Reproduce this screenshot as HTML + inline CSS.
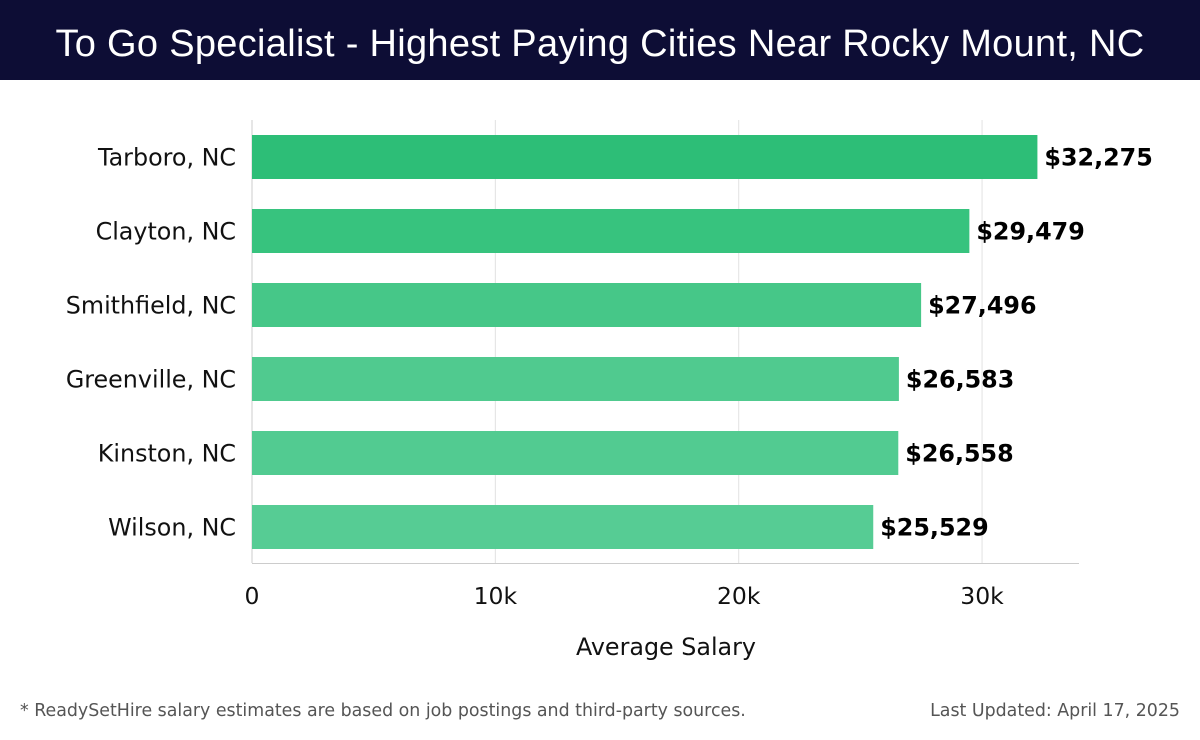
<!DOCTYPE html>
<html><head><meta charset="utf-8"><style>
body{margin:0;width:1200px;height:740px;background:#fff;font-family:"DejaVu Sans",sans-serif;overflow:hidden;position:relative}
#hdr{position:absolute;left:0;top:0;width:1200px;height:80px;background:#0d0d35;color:#fff;font-family:"Liberation Sans",sans-serif;font-size:38px;text-align:center;line-height:88px;letter-spacing:0.3px}
.foot{position:absolute;top:701px;font-size:17.4px;color:#555}
</style></head><body>
<div id="hdr">To Go Specialist - Highest Paying Cities Near Rocky Mount, NC</div>
<svg id="c" width="1200" height="740" style="position:absolute;left:0;top:0"></svg>
<div class="foot" style="left:20px">* ReadySetHire salary estimates are based on job postings and third-party sources.</div>
<div class="foot" style="right:20px">Last Updated: April 17, 2025</div>
<script>
const cities=["Tarboro, NC","Clayton, NC","Smithfield, NC","Greenville, NC","Kinston, NC","Wilson, NC"];
const salaries=[32275,29479,27496,26583,26558,25529];
const ticks=[0,10000,20000,30000];
const tickLabels=["0","10k","20k","30k"];
const colors=["#2dbe77","#37c37e","#46c788","#50ca8f","#52cb91","#56cc94"];
const svg=document.getElementById('c');const NS='http://www.w3.org/2000/svg';
const x0=252,pxPer=0.024335,top0=120,rowH=74,barH=44;
const X=v=>x0+v*pxPer;
function el(t,a){const e=document.createElementNS(NS,t);for(const k in a)e.setAttribute(k,a[k]);svg.appendChild(e);return e;}
ticks.forEach((t,i)=>{
 const g=el('line',{x1:X(t),x2:X(t),y1:top0,y2:563,stroke:'#e2e2e2','stroke-width':1});
 
 
 const l=el('text',{x:X(t),y:604,'text-anchor':'middle','font-size':23.5,fill:'#111'});l.textContent=tickLabels[i];
 
 
});
const ax=el('line',{x1:x0,x2:1079,y1:563.5,y2:563.5,stroke:'#ccc'});


const ay=el('line',{x1:x0,x2:x0,y1:top0,y2:563,stroke:'#ccc'});


cities.forEach((c,i)=>{
 const cy=top0+37+i*rowH;
 const r=el('rect',{x:x0,y:cy-barH/2,width:X(salaries[i])-x0,height:barH,fill:colors[i]});
 
 
 const lb=el('text',{x:236,y:cy+8.5,'text-anchor':'end','font-size':23.8,fill:'#111'});lb.textContent=c;
 
 
 const v=el('text',{x:X(salaries[i])+7,y:cy+8.5,'font-size':23.8,'font-weight':'bold',fill:'#000'});v.textContent='$'+salaries[i].toLocaleString('en-US');
 
 
});
const xt=el('text',{x:666,y:655,'text-anchor':'middle','font-size':23.8,fill:'#111'});xt.textContent='Average Salary';


</script>
</body></html>
